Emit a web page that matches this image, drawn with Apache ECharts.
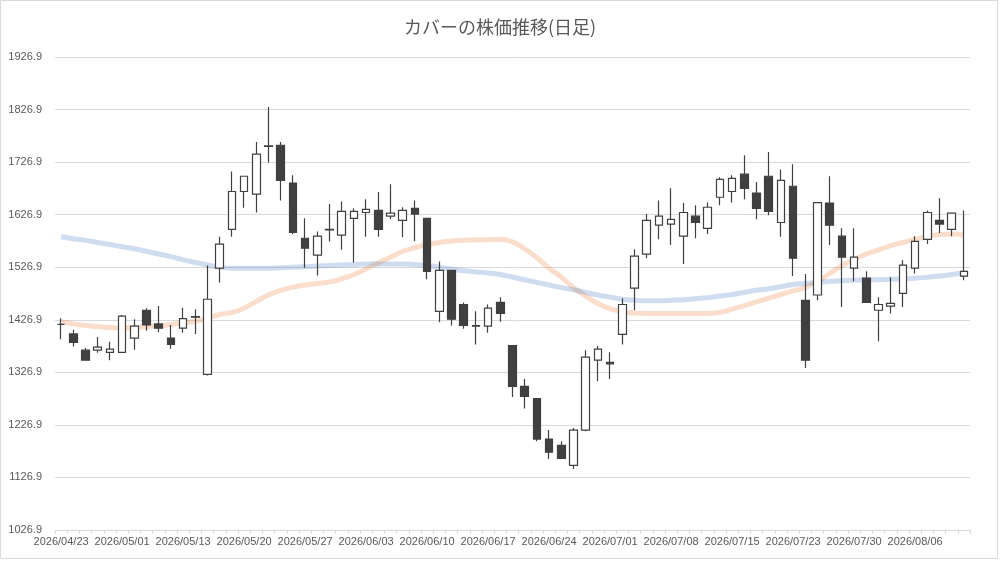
<!DOCTYPE html>
<html>
<head>
<meta charset="utf-8">
<script src="https://cdn.jsdelivr.net/npm/echarts@6/dist/echarts.min.js"></script>
<style>
html,body{margin:0;padding:0;background:#fff;}
#chart{width:1000px;height:561px;}
</style>
</head>
<body>
<div id="chart"></div>
<script>
const dates = [
 '2026/04/23','2026/04/24','2026/04/27','2026/04/28','2026/04/30','2026/05/01','2026/05/07','2026/05/08','2026/05/11','2026/05/12',
 '2026/05/13','2026/05/14','2026/05/15','2026/05/18','2026/05/19','2026/05/20','2026/05/21','2026/05/22','2026/05/25','2026/05/26',
 '2026/05/27','2026/05/28','2026/05/29','2026/06/01','2026/06/02','2026/06/03','2026/06/04','2026/06/05','2026/06/08','2026/06/09',
 '2026/06/10','2026/06/11','2026/06/12','2026/06/15','2026/06/16','2026/06/17','2026/06/18','2026/06/19','2026/06/22','2026/06/23',
 '2026/06/24','2026/06/25','2026/06/26','2026/06/29','2026/06/30','2026/07/01','2026/07/02','2026/07/03','2026/07/06','2026/07/07',
 '2026/07/08','2026/07/09','2026/07/10','2026/07/13','2026/07/14','2026/07/15','2026/07/16','2026/07/17','2026/07/21','2026/07/22',
 '2026/07/23','2026/07/24','2026/07/27','2026/07/28','2026/07/29','2026/07/30','2026/07/31','2026/08/03','2026/08/04','2026/08/05',
 '2026/08/06','2026/08/07','2026/08/10','2026/08/12','2026/08/13'
];
const opens = [
 1418,1400,1369,1369,1365,1365,1392,1445,1419,1392,
 1411,1432,1323,1525,1599,1671,1666,1757,1759,1687,
 1582,1550,1598,1588,1620,1631,1635,1624,1616,1639,
 1620,1443,1521,1456,1415,1415,1460,1378,1300,1277,
 1200,1188,1150,1217,1350,1346,1399,1487,1552,1607,
 1609,1586,1624,1601,1660,1671,1704,1668,1700,1612,
 1681,1464,1474,1649,1586,1525,1506,1445,1453,1477,
 1525,1580,1616,1599,1510
];
const closes = [
 1418,1384,1350,1375,1371,1434,1415,1417,1411,1380,
 1429,1433,1466,1571,1671,1700,1742,1758,1692,1593,
 1563,1586,1599,1633,1633,1637,1599,1630,1635,1628,
 1519,1521,1428,1416,1416,1449,1439,1300,1281,1200,
 1175,1163,1217,1356,1371,1343,1456,1548,1616,1624,
 1618,1631,1612,1641,1694,1696,1677,1639,1633,1692,
 1544,1350,1650,1607,1546,1546,1460,1456,1458,1531,
 1576,1631,1609,1630,1519
];
const lows = [
 1390,1376,1350,1364,1350,1365,1370,1406,1403,1372,
 1402,1400,1321,1498,1585,1640,1631,1726,1654,1590,
 1526,1511,1576,1560,1536,1585,1585,1618,1584,1577,
 1504,1422,1416,1410,1380,1402,1423,1280,1258,1196,
 1162,1163,1143,1215,1310,1314,1380,1445,1544,1580,
 1569,1533,1582,1590,1645,1650,1656,1618,1626,1585,
 1510,1335,1464,1569,1451,1500,1460,1386,1439,1451,
 1515,1571,1592,1586,1502
];
const highs = [
 1430,1408,1373,1394,1385,1436,1428,1449,1453,1417,
 1450,1447,1530,1585,1709,1700,1765,1832,1765,1702,
 1620,1595,1647,1652,1639,1656,1670,1685,1641,1654,
 1620,1538,1521,1460,1443,1456,1470,1378,1314,1277,
 1217,1196,1221,1369,1377,1365,1468,1561,1628,1654,
 1677,1649,1645,1650,1698,1702,1740,1689,1746,1713,
 1723,1514,1650,1700,1601,1601,1519,1470,1508,1540,
 1586,1635,1658,1631,1635
];
const maShort = [
 1423,1419,1416,1414,1412,1411,1412,1414,1415,1418,
 1421,1424,1430,1437,1441,1449,1462,1474,1483,1489,
 1493,1496,1499,1505,1513,1524,1535,1546,1557,1564,
 1570,1574,1577,1578,1579,1579,1580,1575,1562,1545,
 1525,1508,1488,1472,1458,1448,1442,1440,1439,1439,
 1439,1439,1439,1439,1441,1447,1454,1461,1468,1475,
 1482,1488,1500,1515,1530,1542,1552,1560,1568,1574,
 1580,1585,1589,1590,1588
];
const maLong = [
 1585,1581,1578,1574,1570,1566,1562,1557,1552,1547,
 1541,1536,1531,1527,1525,1525,1525,1525,1526,1527,
 1528,1529,1530,1531,1532,1533,1533,1533,1533,1532,
 1530,1527,1523,1520,1518,1516,1513,1508,1503,1498,
 1493,1488,1484,1479,1474,1470,1466,1464,1463,1463,
 1464,1465,1467,1469,1472,1475,1479,1483,1486,1490,
 1494,1496,1498,1500,1501,1502,1503,1503,1504,1505,
 1506,1508,1510,1513,1516
];
const yTicks = { min: 1026.9, max: 1926.9, step: 100 };

const candleData = dates.map((d, i) => [opens[i], closes[i], lows[i], highs[i]]);

const chart = echarts.init(document.getElementById('chart'));
chart.setOption({
  animation: false,
  backgroundColor: '#ffffff',
  title: {
    text: 'カバーの株価推移(日足)',
    left: 'center',
    top: 13,
    textStyle: { fontFamily: 'Noto Sans CJK JP', fontSize: 18, fontWeight: 'normal', color: '#595959' }
  },
  graphic: [{
    type: 'rect', silent: true,
    shape: { x: 0.5, y: 0.5, width: 997, height: 558 },
    style: { fill: 'none', stroke: '#d9d9d9', lineWidth: 1 }
  }],
  grid: { left: 55, right: 30, top: 57, bottom: 31 },
  xAxis: {
    type: 'category',
    data: dates,
    boundaryGap: true,
    axisLine: { lineStyle: { color: '#d9d9d9' } },
    axisTick: { show: true, interval: 0, length: 4, lineStyle: { color: '#d9d9d9' } },
    axisLabel: { interval: 4, color: '#595959', fontSize: 11, fontFamily: 'Liberation Sans', margin: 6 },
    splitLine: { show: false }
  },
  yAxis: {
    type: 'value',
    min: yTicks.min,
    max: yTicks.max,
    interval: yTicks.step,
    axisLine: { show: false },
    axisTick: { show: false },
    axisLabel: {
      color: '#595959', fontSize: 11, fontFamily: 'Liberation Sans', margin: 13,
      formatter: v => Number(v).toFixed(1)
    },
    splitLine: { lineStyle: { color: '#d9d9d9' } }
  },
  series: [
    {
      name: 'MA短期', type: 'line', data: maShort, smooth: true, symbol: 'none', z: 1,
      lineStyle: { width: 5, color: 'rgba(237,125,49,0.25)' }
    },
    {
      name: 'MA長期', type: 'line', data: maLong, smooth: true, symbol: 'none', z: 1,
      lineStyle: { width: 5, color: 'rgba(68,114,196,0.25)' }
    },
    {
      name: '株価', type: 'candlestick', data: candleData, z: 3,
      barWidth: '66%',
      itemStyle: {
        color: '#ffffff', color0: '#404040',
        borderColor: '#404040', borderColor0: '#404040', borderColorDoji: '#404040', borderWidth: 1.2
      }
    }
  ]
});
</script>
</body>
</html>
